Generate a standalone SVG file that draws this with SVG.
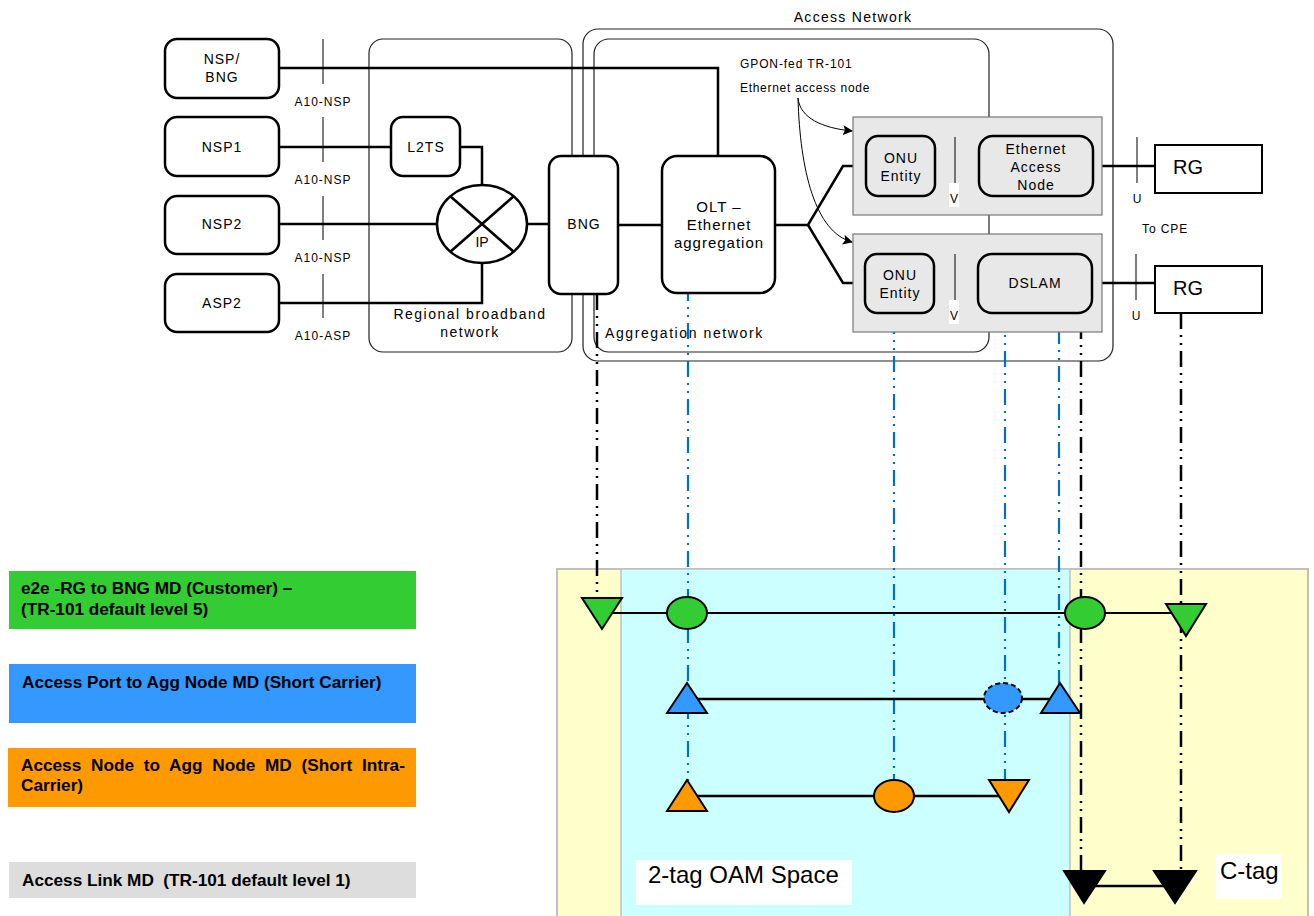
<svg xmlns="http://www.w3.org/2000/svg" width="1314" height="916" viewBox="0 0 1314 916">
<defs>
<marker id="ah" markerWidth="10" markerHeight="10" refX="9" refY="5" orient="auto" markerUnits="userSpaceOnUse"><path d="M0,0 L10,5 L0,10 L2,5 Z" fill="#000"/></marker>
<style>
text{font-family:"Liberation Sans",Arial,sans-serif;fill:#000}
.n{fill:#fff;stroke:#000;stroke-width:2.5}
.ng{fill:#e8e8e8;stroke:#000;stroke-width:2.5}
.b{fill:none;stroke:#222;stroke-width:1.2}
.l{fill:none;stroke:#000;stroke-width:2.5}
.t{fill:none;stroke:#000;stroke-width:1}
.t14{font-size:14px;letter-spacing:1px;text-anchor:middle}
.t11{font-size:12px;letter-spacing:1px;text-anchor:middle}
.gb{fill:#e8e8e8;stroke:#777;stroke-width:1.2}
.dk{fill:none;stroke:#000;stroke-width:2.5;stroke-dasharray:16 6 2 6 2 6}
.db{fill:none;stroke:#0070c0;stroke-width:2.2;stroke-dasharray:16 6 2 6 2 6}
.m{stroke:#000;stroke-width:2}
.leg{font-size:17.2px;font-weight:bold}
</style>
</defs>
<rect width="1314" height="916" fill="#fff"/>

<!-- background zones -->
<g id="oam-space">
<rect x="557" y="569" width="751" height="350" fill="#ffffcc" stroke="#c0c0c0" stroke-width="2"/>
<rect x="621" y="569" width="449" height="350" fill="#ccffff" stroke="#c0c0c0" stroke-width="1.5"/>
</g>

<!-- container boxes -->
<g id="regional-network"><rect class="b" x="369" y="39" width="203" height="313" rx="14"/>
<text x="470" y="319" style="font-size:14px;letter-spacing:1.5px;text-anchor:middle">Regional broadband</text>
<text x="470" y="337" style="font-size:14px;letter-spacing:1.5px;text-anchor:middle">network</text></g>
<g id="access-network"><rect class="b" x="583" y="29" width="530" height="332" rx="15"/>
<text x="853" y="22" style="font-size:14px;letter-spacing:1.3px;text-anchor:middle">Access Network</text></g>
<g id="aggregation-network"><rect class="b" x="594" y="39" width="395" height="313" rx="15"/>
<text x="605" y="338" style="font-size:14px;letter-spacing:1.6px">Aggregation network</text></g>

<!-- connectors -->
<g id="connectors">
<polyline class="l" points="279,68 718,68 718,156"/>
<line class="l" x1="279" y1="147" x2="391" y2="147"/>
<polyline class="l" points="460,147 482,147 482,185"/>
<line class="l" x1="279" y1="224" x2="437" y2="224"/>
<polyline class="l" points="279,303 482,303 482,263"/>
<line class="l" x1="527" y1="224" x2="549" y2="224"/>
<line class="l" x1="618" y1="225" x2="662" y2="225"/>
<polyline class="l" points="775,225 808,225 843,166 866,166"/>
<polyline class="l" points="808,225 843,283 865,283"/>
<line class="l" x1="935" y1="166" x2="979" y2="166"/>
<line class="l" x1="1093" y1="166" x2="1155" y2="166"/>
<line class="l" x1="934" y1="283" x2="978" y2="283"/>
<line class="l" x1="1092" y1="283" x2="1155" y2="283"/>
<!-- reference points -->
<line class="t" x1="323" y1="39" x2="323" y2="84"/>
<line class="t" x1="323" y1="117" x2="323" y2="162"/>
<line class="t" x1="323" y1="196" x2="323" y2="240"/>
<line class="t" x1="323" y1="274" x2="323" y2="318"/>
<line class="t" x1="1137" y1="137" x2="1137" y2="183"/>
<line class="t" x1="1136" y1="254" x2="1136" y2="300"/>
<!-- annotation arrows -->
<path class="t" d="M798,98 C800,118 822,128 852,131" marker-end="url(#ah)"/>
<path class="t" d="M798,98 C800,170 815,232 852,242" marker-end="url(#ah)"/>
<!-- MEP/MIP drop lines -->
<line class="dk" x1="597" y1="294" x2="597" y2="600"/>
<line class="db" x1="688" y1="285" x2="688" y2="782"/>
<line class="db" x1="894" y1="318" x2="894" y2="782"/>
<line class="db" x1="1005" y1="313" x2="1005" y2="782"/>
<line class="db" x1="1059" y1="328" x2="1059" y2="685"/>
<line class="dk" x1="1081" y1="323" x2="1081" y2="873"/>
<line class="dk" x1="1181" y1="313" x2="1181" y2="873"/>
<!-- MD lines -->
<line x1="602" y1="613" x2="1186" y2="613" stroke="#000" stroke-width="2"/>
<line x1="687" y1="699" x2="1060" y2="699" stroke="#000" stroke-width="2.5"/>
<line x1="687" y1="796" x2="1009" y2="796" stroke="#000" stroke-width="2.5"/>
<line x1="1084" y1="886" x2="1175" y2="886" stroke="#000" stroke-width="2.5"/>
</g>

<!-- nodes -->
<g id="nsp-bng"><rect class="n" x="165" y="39" width="114" height="59" rx="12"/>
<text class="t14" x="222" y="64">NSP/</text><text class="t14" x="222" y="82">BNG</text></g>
<g id="nsp1"><rect class="n" x="165" y="117" width="114" height="59" rx="12"/><text class="t14" x="222" y="152">NSP1</text></g>
<g id="nsp2"><rect class="n" x="165" y="196" width="114" height="58" rx="12"/><text class="t14" x="222" y="229">NSP2</text></g>
<g id="asp2"><rect class="n" x="165" y="274" width="114" height="58" rx="12"/><text class="t14" x="222" y="308">ASP2</text></g>
<g id="a10-labels">
<text class="t11" x="323" y="106">A10-NSP</text>
<text class="t11" x="323" y="184">A10-NSP</text>
<text class="t11" x="323" y="262">A10-NSP</text>
<text class="t11" x="323" y="340">A10-ASP</text></g>
<g id="l2ts"><rect class="n" x="391" y="117" width="69" height="59" rx="12"/><text class="t14" x="426" y="152">L2TS</text></g>
<g id="ip"><ellipse class="n" cx="482" cy="224" rx="45" ry="39"/>
<line class="l" x1="450" y1="196" x2="514" y2="252"/><line class="l" x1="514" y1="196" x2="450" y2="252"/>
<text x="482" y="247" style="font-size:14px;text-anchor:middle">IP</text></g>
<g id="bng"><rect class="n" x="549" y="156" width="69" height="138" rx="12"/><text class="t14" x="584" y="229">BNG</text></g>
<g id="olt"><rect class="n" x="662" y="156" width="113" height="137" rx="15"/>
<text x="719" y="212" style="font-size:15px;letter-spacing:1px;text-anchor:middle">OLT –</text>
<text x="719" y="230" style="font-size:15px;letter-spacing:1px;text-anchor:middle">Ethernet</text>
<text x="719" y="248" style="font-size:15px;letter-spacing:1px;text-anchor:middle">aggregation</text></g>
<g id="gpon-label">
<text x="740" y="68" style="font-size:12px;letter-spacing:0.9px">GPON-fed TR-101</text>
<text x="740" y="92" style="font-size:12px;letter-spacing:0.7px">Ethernet access node</text></g>

<g id="access-node-1"><rect class="gb" x="853" y="117" width="249" height="98"/>
<line class="t" x1="955" y1="137" x2="955" y2="183"/>
<rect x="949" y="183" width="10" height="24" fill="#fff"/>
<text class="t11" x="954" y="203" style="letter-spacing:0">V</text></g>
<g id="onu-1"><rect class="ng" x="866" y="136" width="69" height="60" rx="12"/>
<text class="t14" x="901" y="163">ONU</text><text class="t14" x="901" y="181">Entity</text></g>
<g id="ethernet-access-node"><rect class="ng" x="979" y="136" width="114" height="60" rx="14"/>
<text class="t14" x="1036" y="154">Ethernet</text><text class="t14" x="1036" y="172">Access</text><text class="t14" x="1036" y="190">Node</text></g>

<g id="access-node-2"><rect class="gb" x="853" y="234" width="249" height="98"/>
<line class="t" x1="955" y1="254" x2="955" y2="300"/>
<rect x="949" y="300" width="10" height="24" fill="#fff"/>
<text class="t11" x="954" y="320" style="letter-spacing:0">V</text></g>
<g id="onu-2"><rect class="ng" x="865" y="254" width="69" height="59" rx="12"/>
<text class="t14" x="900" y="280">ONU</text><text class="t14" x="900" y="298">Entity</text></g>
<g id="dslam"><rect class="ng" x="978" y="254" width="114" height="59" rx="14"/>
<text class="t14" x="1035" y="288">DSLAM</text></g>
<g id="u-labels"><text class="t11" x="1137" y="203" style="letter-spacing:0">U</text><text class="t11" x="1136" y="320" style="letter-spacing:0">U</text>
<text x="1142" y="233" style="font-size:12px;letter-spacing:0.9px">To CPE</text></g>
<g id="rg-1"><rect x="1155" y="145" width="107" height="48" fill="#fff" stroke="#000" stroke-width="2"/>
<text x="1173" y="174" style="font-size:20px">RG</text></g>
<g id="rg-2"><rect x="1155" y="266" width="107" height="47" fill="#fff" stroke="#000" stroke-width="2"/>
<text x="1173" y="295" style="font-size:20px">RG</text></g>

<!-- MEP / MIP symbols -->
<g id="e2e-md">
<polygon class="m" points="582,598 622,598 602,629" fill="#33cc33"/>
<ellipse class="m" cx="687" cy="613" rx="20" ry="16" fill="#33cc33"/>
<ellipse class="m" cx="1085" cy="613" rx="20" ry="16" fill="#33cc33"/>
<polygon class="m" points="1166,604 1206,604 1186,636" fill="#33cc33"/>
</g>
<g id="access-port-md">
<polygon class="m" points="687,683 707,713 667,713" fill="#3399ff"/>
<ellipse cx="1003" cy="698" rx="19" ry="15" fill="#3399ff" stroke="#000" stroke-width="2" stroke-dasharray="5 3"/>
<polygon class="m" points="1060,683 1080,713 1041,713" fill="#3399ff"/>
</g>
<g id="access-node-md">
<polygon class="m" points="687,780 707,811 667,811" fill="#ff9900"/>
<ellipse class="m" cx="894" cy="796" rx="20" ry="16" fill="#ff9900"/>
<polygon class="m" points="989,780 1029,780 1009,812" fill="#ff9900"/>
</g>
<g id="access-link-md">
<polygon class="m" points="1064,871 1105,871 1084,903" fill="#000"/>
<polygon class="m" points="1154,871 1196,871 1175,903" fill="#000"/>
</g>
<g id="zone-labels">
<rect x="636" y="860" width="216" height="45" fill="#fff"/>
<text x="648" y="883" style="font-size:24px">2-tag OAM Space</text>
<rect x="1216" y="854" width="66" height="45" fill="#fff"/>
<text x="1220" y="879" style="font-size:24px">C-tag</text>
</g>

<!-- legend -->
<g id="legend-e2e"><rect x="9" y="571" width="407" height="58" fill="#33cc33"/>
<text class="leg" x="21" y="594">e2e -RG to BNG MD (Customer) –</text>
<text class="leg" x="21" y="615">(TR-101 default level 5)</text></g>
<g id="legend-access-port"><rect x="9" y="664" width="407" height="59" fill="#3399ff"/>
<text class="leg" x="22" y="688">Access Port to Agg Node MD (Short Carrier)</text></g>
<g id="legend-access-node"><rect x="8" y="748" width="408" height="59" fill="#ff9900"/>
<text class="leg" x="21" y="771" style="word-spacing:5px">Access Node to Agg Node MD (Short Intra-</text>
<text class="leg" x="21" y="791">Carrier)</text></g>
<g id="legend-access-link"><rect x="9" y="862" width="407" height="36" fill="#dddddd"/>
<text class="leg" x="22" y="886" xml:space="preserve">Access Link MD  (TR-101 default level 1)</text></g>
</svg>
